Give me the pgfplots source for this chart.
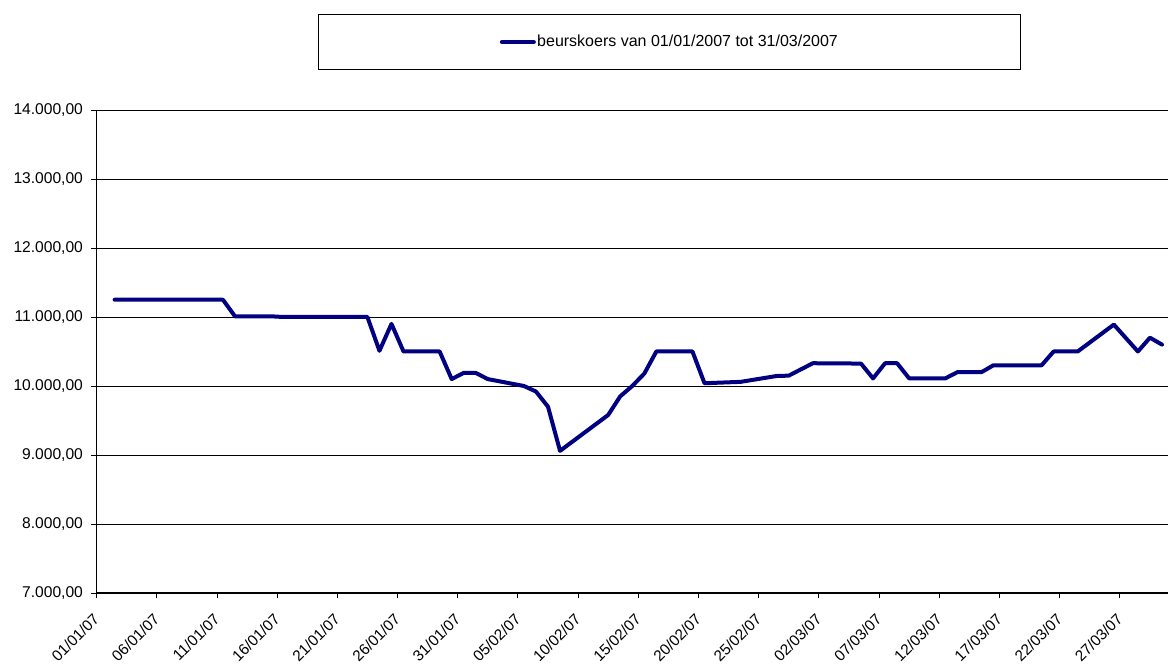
\documentclass[border=0pt]{standalone}
\usepackage{pgfplots}
\pgfplotsset{compat=1.18}
\usepackage{fontspec}
\setmainfont{Liberation Sans}
\definecolor{kleur}{RGB}{0,0,128}

\begin{document}
\begin{tikzpicture}
  \begin{axis}[
    name=ax,
    scale only axis,
    width=803.6pt, height=362.25pt,
    xmin=0, xmax=89,
    ymin=7000, ymax=14000,
    axis lines=left,
    axis line style={-, line width=0.9pt},
    tick align=outside,
    major tick length=4pt,
    tick style={black, line width=0.6pt},
    xtick={0,5,...,85},
    xticklabels={01/01/07,06/01/07,11/01/07,16/01/07,21/01/07,26/01/07,
      31/01/07,05/02/07,10/02/07,15/02/07,20/02/07,25/02/07,02/03/07,
      07/03/07,12/03/07,17/03/07,22/03/07,27/03/07},
    xticklabel style={rotate=45, anchor=east, inner sep=0pt,
      font=\fontsize{11.5}{13}\selectfont},
    xticklabel shift=13.5pt,
    ytick={7000,8000,...,14000},
    scaled y ticks=false,
    ymajorgrids,
    major grid style={black, line width=0.6pt},
    yticklabel style={font=\fontsize{11.7}{13}\selectfont, inner sep=1pt,
      xshift=-5pt},
    /pgf/number format/.cd, fixed, precision=2, fixed zerofill,
      1000 sep={.}, use comma, assume math mode=true,
    /pgfplots/.cd,
    legend style={
      at={(0.5348,1.1408)}, anchor=center,
      draw=black, line width=0.6pt,
      inner xsep=136pt, inner ysep=14.5pt,
      font=\fontsize{12}{14}\selectfont,
      nodes={inner sep=1pt},
    },
    legend image code/.code={\draw[#1, line cap=round] (0pt,0pt) -- (24pt,0pt);},
  ]
    \addplot[kleur, line width=3pt, line join=round, line cap=round] coordinates {
      (1.5,11250) (10.5,11250) (11.5,11010) (14.5,11010) (15.5,11000)
      (22.5,11000) (23.5,10510) (24.5,10900) (25.5,10500) (28.5,10500)
      (29.5,10100) (30.5,10190) (31.5,10190) (32.5,10100) (35.5,10000)
      (36.5,9920) (37.5,9700) (38.5,9060) (42.5,9580) (43.5,9850)
      (44.5,10000) (45.5,10180) (46.5,10500) (49.5,10500) (50.5,10040)
      (53.5,10060) (56.5,10145) (57.5,10150) (59.5,10330) (63.5,10325)
      (64.5,10110) (65.5,10330) (66.5,10330) (67.5,10110) (70.5,10110)
      (71.5,10200) (73.5,10200) (74.5,10300) (78.5,10300) (79.5,10500)
      (81.5,10500) (84.5,10890) (86.5,10500) (87.5,10700) (88.5,10600)
    };
    \legend{beurskoers van 01/01/2007 tot 31/03/2007}
  \end{axis}
  \pgfresetboundingbox
  \path ([xshift=-72.4pt,yshift=-53.25pt]ax.south west)
    rectangle ([yshift=82.5pt]ax.north east);
\end{tikzpicture}
\end{document}
